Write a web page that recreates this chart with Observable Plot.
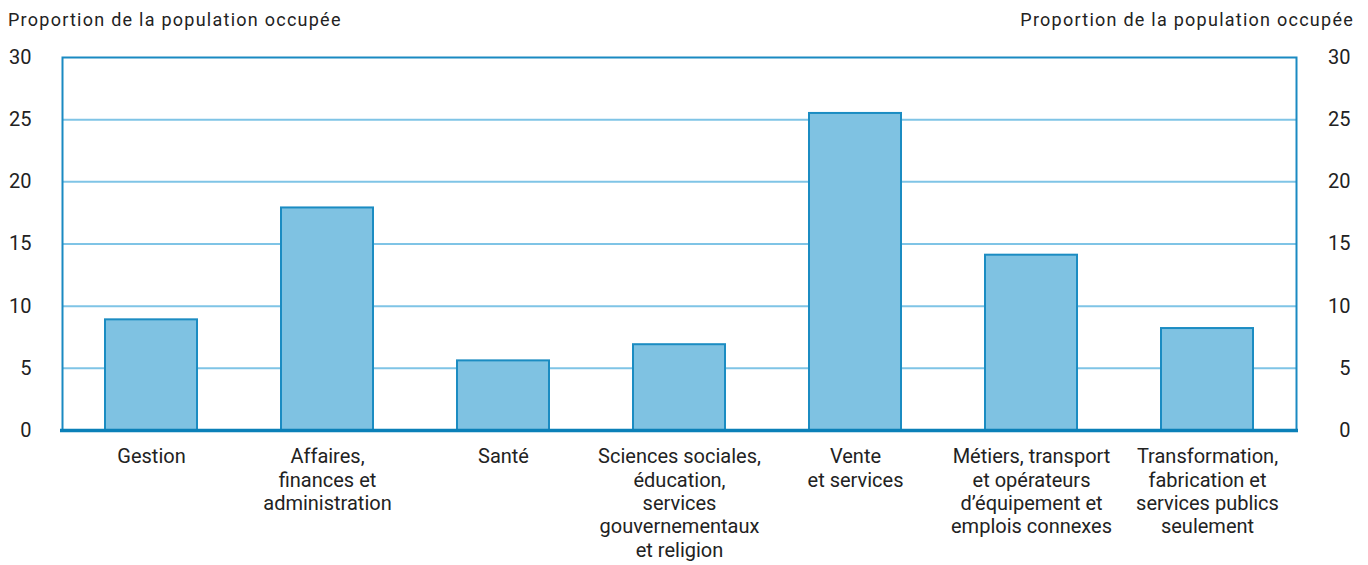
<!DOCTYPE html>
<html>
<head>
<meta charset="utf-8">
<script src="https://cdn.jsdelivr.net/npm/d3@7"></script>
<script src="https://cdn.jsdelivr.net/npm/@observablehq/plot@0.6"></script>
<style>
  html, body { margin: 0; padding: 0; background: #fff; }
  #wrap { width: 1368px; height: 565px; font-family: Roboto, "Liberation Sans", sans-serif; color: #222; }
  #titles { height: 38px; display: flex; justify-content: space-between; align-items: center;
            padding: 0 14px 0 8px; font-size: 18px; letter-spacing: 1.25px; color: #222; box-sizing: border-box; }
  svg { display: block; }
</style>
</head>
<body>
<div id="wrap">
  <div id="titles"><span>Proportion de la population occupée</span><span>Proportion de la population occupée</span></div>
  <div id="chart"></div>
</div>
<script>
const categories = ["Gestion", "Affaires", "Santé", "Sciences sociales", "Vente", "Métiers", "Transformation"];
const labels = [
  "Gestion",
  "Affaires,\nfinances et\nadministration",
  "Santé",
  "Sciences sociales,\néducation,\nservices\ngouvernementaux\net religion",
  "Vente\net services",
  "Métiers, transport\net opérateurs\nd’équipement et\nemplois connexes",
  "Transformation,\nfabrication et\nservices publics\nseulement"
];
const values = [8.9, 17.9, 5.6, 6.9, 25.5, 14.1, 8.2];
const yTicks = [0, 5, 10, 15, 20, 25, 30];
const gridTicks = [5, 10, 15, 20, 25];

const data = categories.map((c, i) => ({category: c, label: labels[i], value: values[i]}));
const labelOf = new Map(categories.map((c, i) => [c, labels[i]]));

const chart = Plot.plot({
  width: 1368,
  height: 527,
  marginTop: 19,
  marginRight: 72,
  marginBottom: 135,
  marginLeft: 62,
  style: {fontFamily: "Roboto, 'Liberation Sans', sans-serif", color: "#222", background: "#fff"},
  x: {domain: categories, paddingInner: 0.478, paddingOuter: 0.239, axis: null, label: null},
  y: {domain: [0, 30], axis: null, label: null},
  marks: [
    Plot.ruleY(gridTicks, {stroke: "#7fc4e6", strokeWidth: 2}),
    Plot.barY(data, {x: "category", y: "value", fill: "#7fc2e2", stroke: "#1b8cc2", strokeWidth: 2}),
    Plot.frame({stroke: "#1a8ac2", strokeWidth: 2}),
    Plot.ruleY([0], {stroke: "#0b80b8", strokeWidth: 3.5, insetLeft: -2, insetRight: -2}),
    Plot.axisY({anchor: "left", label: null, ticks: yTicks, tickSize: 0, tickPadding: 31, fontSize: 20, tickFormat: d => d}),
    Plot.axisY({anchor: "right", label: null, ticks: yTicks, tickSize: 0, tickPadding: 54, textAnchor: "end", fontSize: 20, tickFormat: d => d}),
    Plot.axisX({anchor: "bottom", label: null, tickSize: 0, tickPadding: 16, fontSize: 20, lineHeight: 1.17, tickFormat: d => labelOf.get(d)})
  ]
});
document.getElementById("chart").appendChild(chart);
</script>
</body>
</html>
